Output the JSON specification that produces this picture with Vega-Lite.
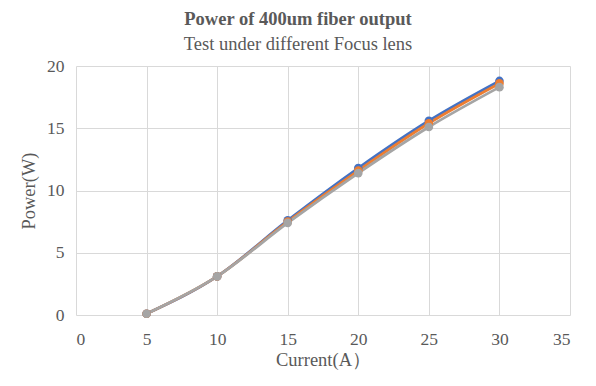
{
  "$schema": "https://vega.github.io/schema/vega-lite/v6.json",
  "width": 494,
  "height": 249,
  "autosize": {"type": "none"},
  "padding": {"left": 76, "top": 66, "right": 26, "bottom": 71},
  "background": "white",
  "title": {
    "text": "Power of 400um fiber output",
    "subtitle": "Test under different Focus lens",
    "anchor": "middle",
    "dx": -25,
    "offset": 4,
    "font": "Liberation Serif",
    "fontSize": 18.5,
    "fontWeight": "bold",
    "color": "#595959",
    "subtitleFont": "Liberation Serif",
    "subtitleFontSize": 18.5,
    "subtitleColor": "#595959",
    "subtitlePadding": 6
  },
  "config": {
    "view": {"stroke": null},
    "axis": {
      "labelFont": "Liberation Serif",
      "labelFontSize": 17.5,
      "labelColor": "#595959",
      "titleFont": "Liberation Serif",
      "titleFontSize": 18.5,
      "titleFontWeight": "normal",
      "titleColor": "#595959",
      "gridColor": "#d9d9d9",
      "gridWidth": 1,
      "ticks": false,
      "domain": false
    }
  },
  "data": {
    "values": [
      {"current": 5, "power": 0.1, "lens": "Lens 1"},
      {"current": 10, "power": 3.1, "lens": "Lens 1"},
      {"current": 15, "power": 7.6, "lens": "Lens 1"},
      {"current": 20, "power": 11.8, "lens": "Lens 1"},
      {"current": 25, "power": 15.6, "lens": "Lens 1"},
      {"current": 30, "power": 18.8, "lens": "Lens 1"},
      {"current": 5, "power": 0.1, "lens": "Lens 2"},
      {"current": 10, "power": 3.1, "lens": "Lens 2"},
      {"current": 15, "power": 7.5, "lens": "Lens 2"},
      {"current": 20, "power": 11.6, "lens": "Lens 2"},
      {"current": 25, "power": 15.4, "lens": "Lens 2"},
      {"current": 30, "power": 18.6, "lens": "Lens 2"},
      {"current": 5, "power": 0.1, "lens": "Lens 3"},
      {"current": 10, "power": 3.1, "lens": "Lens 3"},
      {"current": 15, "power": 7.4, "lens": "Lens 3"},
      {"current": 20, "power": 11.4, "lens": "Lens 3"},
      {"current": 25, "power": 15.1, "lens": "Lens 3"},
      {"current": 30, "power": 18.3, "lens": "Lens 3"}
    ]
  },
  "encoding": {
    "x": {
      "field": "current",
      "type": "quantitative",
      "title": "Current(A）",
      "scale": {"domain": [0, 35], "nice": false},
      "axis": {"values": [0, 5, 10, 15, 20, 25, 30, 35], "labelPadding": 15, "titlePadding": 3}
    },
    "y": {
      "field": "power",
      "type": "quantitative",
      "title": "Power(W)",
      "scale": {"domain": [0, 20], "nice": false},
      "axis": {"values": [0, 5, 10, 15, 20], "labelPadding": 12, "titlePadding": 8}
    },
    "color": {
      "field": "lens",
      "type": "nominal",
      "scale": {"domain": ["Lens 1", "Lens 2", "Lens 3"], "range": ["#4472C4", "#ED7D31", "#A5A5A5"]},
      "legend": null
    }
  },
  "layer": [
    {
      "mark": {"type": "line", "strokeWidth": 2.75, "interpolate": "monotone", "point": {"filled": true, "size": 75, "opacity": 1}}
    }
  ]
}
